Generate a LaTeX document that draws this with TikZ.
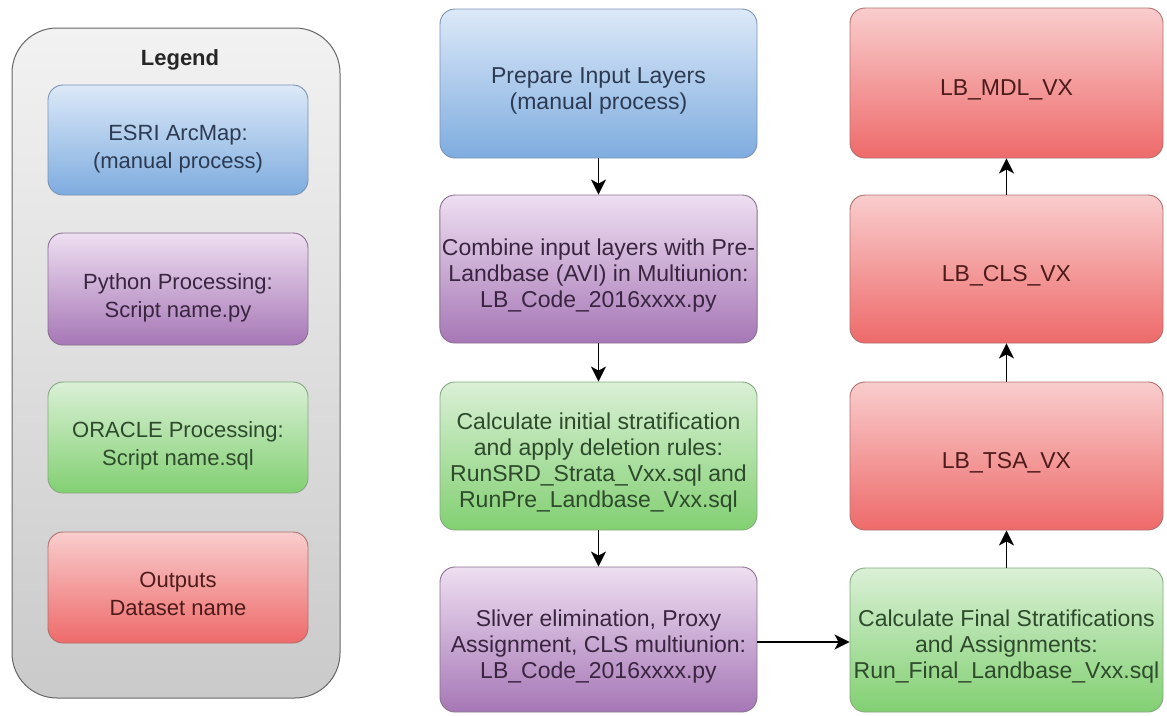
\documentclass[tikz,border=0pt]{standalone}
\usepackage{fontspec}
\setmainfont{Liberation Sans}
\usetikzlibrary{arrows.meta}
\definecolor{bluetop}{HTML}{DCE9F8}
\definecolor{bluebot}{HTML}{7EACDF}
\definecolor{blueln}{HTML}{7C93B5}
\definecolor{bluetx}{HTML}{2C3A52}
\definecolor{purtop}{HTML}{EEDFF1}
\definecolor{purbot}{HTML}{A677B6}
\definecolor{purln}{HTML}{8A7090}
\definecolor{purtx}{HTML}{3A2541}
\definecolor{grntop}{HTML}{DAF0D6}
\definecolor{grnbot}{HTML}{82D072}
\definecolor{grnln}{HTML}{86A882}
\definecolor{grntx}{HTML}{2D4A2B}
\definecolor{redtop}{HTML}{F9CDCD}
\definecolor{redbot}{HTML}{EE6A6A}
\definecolor{redln}{HTML}{B07070}
\definecolor{redtx}{HTML}{4E1A1A}
\definecolor{legtop}{HTML}{F2F2F2}
\definecolor{legbot}{HTML}{CACACA}
\newcommand{\bt}[1]{\raisebox{-14pt}[0pt][0pt]{\begin{tabular}{@{}c@{}}#1\end{tabular}}}
\tikzset{
  x=1pt, y=-1pt,
  box/.style={rectangle, rounded corners=15pt, inner sep=2pt,
    line width=0.9pt, font=\fontsize{23}{26}\selectfont},
  bluebox/.style={box, draw=blueln, top color=bluetop, bottom color=bluebot, text=bluetx},
  purbox/.style={box, draw=purln, top color=purtop, bottom color=purbot, text=purtx},
  grnbox/.style={box, draw=grnln, top color=grntop, bottom color=grnbot, text=grntx},
  redbox/.style={box, draw=redln, top color=redtop, bottom color=redbot, text=redtx},
  legitem/.style={minimum width=260pt, font=\fontsize{22}{28}\selectfont},
  midbox/.style={minimum width=317pt},
  rightbox/.style={minimum width=313pt},
  flow/.style={-{Stealth[length=15pt,width=15pt,inset=4pt]}, line width=1.6pt, black}
}
\begin{document}
\begin{tikzpicture}
\useasboundingbox (0,0) rectangle (1167,715);
% legend
\draw[rounded corners=45pt, draw=black!60, line width=1pt, top color=legtop, bottom color=legbot]
  (12,28) rectangle (340,698);
\node[font=\bfseries\fontsize{22}{26}\selectfont, text=black!85] (legtitle) at (180,60) {Legend};
\node[bluebox, legitem, minimum height=110pt] (l1) at (178,140) {\bt{ESRI ArcMap:\\(manual process)}};
\node[purbox, legitem, minimum height=112pt] (l2) at (178,289) {\bt{Python Processing:\\Script name.py}};
\node[grnbox, legitem, minimum height=111pt] (l3) at (178,437.5) {\bt{ORACLE Processing:\\Script name.sql}};
\node[redbox, legitem, minimum height=111pt] (l4) at (178,587.5) {\bt{Outputs\\Dataset name}};
% middle column
\node[bluebox, midbox, minimum height=149pt] (b1) at (598.5,83.5) {\bt{Prepare Input Layers\\(manual process)}};
\node[purbox, midbox, minimum height=148pt] (b2) at (598.5,269) {\bt{Combine input layers with Pre-\\Landbase (AVI) in Multiunion:\\LB\_Code\_2016xxxx.py}};
\node[grnbox, midbox, minimum height=148pt] (b3) at (598.5,456) {\bt{Calculate initial stratification\\and apply deletion rules:\\RunSRD\_Strata\_Vxx.sql and\\RunPre\_Landbase\_Vxx.sql}};
\node[purbox, midbox, minimum height=145pt] (b4) at (598.5,639.5) {\bt{Sliver elimination, Proxy\\Assignment, CLS multiunion:\\LB\_Code\_2016xxxx.py}};
% right column
\node[redbox, rightbox, minimum height=150pt] (r1) at (1006.5,83) {\bt{LB\_MDL\_VX}};
\node[redbox, rightbox, minimum height=148pt] (r2) at (1006.5,269) {\bt{LB\_CLS\_VX}};
\node[redbox, rightbox, minimum height=148pt] (r3) at (1006.5,456) {\bt{LB\_TSA\_VX}};
\node[grnbox, rightbox, minimum height=144pt] (r4) at (1006.5,640) {\bt{Calculate Final Stratifications\\and Assignments:\\Run\_Final\_Landbase\_Vxx.sql}};
% connectors
\draw[flow] (b1) -- (b2);
\draw[flow] (b2) -- (b3);
\draw[flow] (b3) -- (b4);
\draw[flow] (b4.east |- 0,642) -- (r4.west |- 0,642);
\draw[flow] (r4) -- (r3);
\draw[flow] (r3) -- (r2);
\draw[flow] (r2) -- (r1);
\end{tikzpicture}
\end{document}
